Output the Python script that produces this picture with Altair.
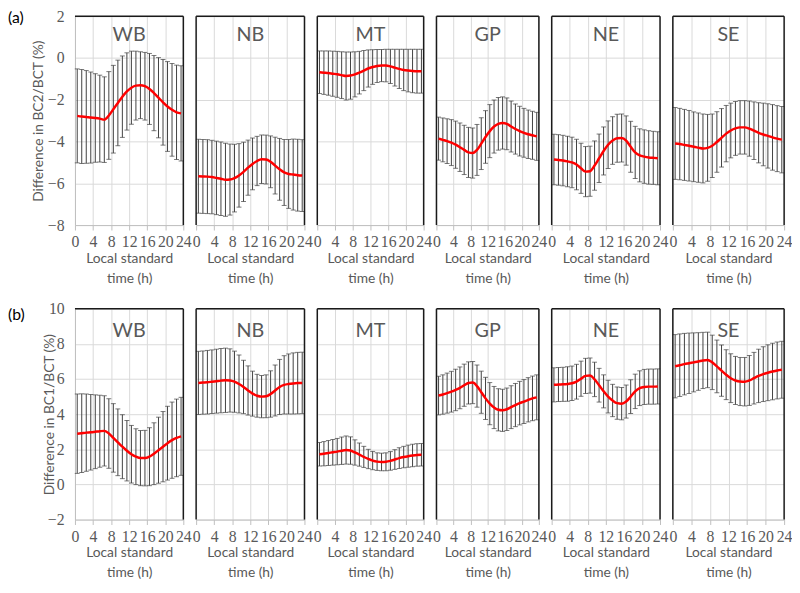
import altair as alt
import pandas as pd

HOURS = [0.5, 1.5, 2.5, 3.5, 4.5, 5.5, 6.5, 7.5, 8.5, 9.5, 10.5, 11.5,
         12.5, 13.5, 14.5, 15.5, 16.5, 17.5, 18.5, 19.5, 20.5, 21.5, 22.5, 23.5]
PANELS = ["WB", "NB", "MT", "GP", "NE", "SE"]
X_TICKS = [0, 4, 8, 12, 16, 20, 24]

# (a) Difference in BC2/BCT (%)
A_MEAN = {
    "WB": [-2.77, -2.80, -2.82, -2.85, -2.87, -2.90, -2.95, -2.75, -2.45, -2.15, -1.85, -1.60,
           -1.42, -1.32, -1.30, -1.35, -1.48, -1.68, -1.90, -2.12, -2.32, -2.48, -2.60, -2.65],
    "NB": [-5.66, -5.67, -5.68, -5.70, -5.74, -5.78, -5.83, -5.82, -5.75, -5.62, -5.45, -5.25,
           -5.07, -4.93, -4.85, -4.86, -4.97, -5.15, -5.33, -5.48, -5.55, -5.58, -5.61, -5.63],
    "MT": [-0.68, -0.70, -0.72, -0.75, -0.78, -0.82, -0.86, -0.84, -0.78, -0.70, -0.60, -0.50,
           -0.43, -0.38, -0.36, -0.36, -0.40, -0.46, -0.52, -0.57, -0.60, -0.62, -0.63, -0.63],
    "GP": [-3.86, -3.92, -3.98, -4.05, -4.15, -4.27, -4.40, -4.52, -4.55, -4.40, -4.10, -3.78,
           -3.50, -3.28, -3.15, -3.11, -3.15, -3.28, -3.40, -3.50, -3.58, -3.65, -3.70, -3.75],
    "NE": [-4.86, -4.88, -4.91, -4.95, -5.00, -5.10, -5.28, -5.44, -5.42, -5.15, -4.80, -4.45,
           -4.15, -3.95, -3.84, -3.83, -3.95, -4.25, -4.52, -4.66, -4.72, -4.76, -4.78, -4.80],
    "SE": [-4.09, -4.12, -4.16, -4.20, -4.25, -4.29, -4.33, -4.30, -4.20, -4.02, -3.82, -3.62,
           -3.47, -3.37, -3.32, -3.32, -3.38, -3.48, -3.58, -3.66, -3.73, -3.80, -3.86, -3.91],
}
A_SD = {
    "WB": [2.25, 2.25, 2.22, 2.18, 2.12, 2.08, 2.05, 2.10, 2.10, 2.05, 1.95, 1.85,
           1.75, 1.65, 1.60, 1.62, 1.70, 1.80, 1.92, 2.05, 2.15, 2.22, 2.26, 2.28],
    "NB": [1.77, 1.77, 1.77, 1.76, 1.76, 1.76, 1.75, 1.70, 1.62, 1.52, 1.42, 1.32,
           1.24, 1.18, 1.16, 1.17, 1.24, 1.36, 1.48, 1.58, 1.65, 1.70, 1.72, 1.72],
    "MT": [1.02, 1.04, 1.06, 1.08, 1.10, 1.12, 1.15, 1.13, 1.08, 1.02, 0.96, 0.89,
           0.83, 0.79, 0.77, 0.78, 0.82, 0.88, 0.94, 0.99, 1.02, 1.04, 1.05, 1.05],
    "GP": [1.03, 1.05, 1.07, 1.10, 1.13, 1.16, 1.18, 1.20, 1.20, 1.22, 1.24, 1.26,
           1.27, 1.27, 1.26, 1.25, 1.24, 1.22, 1.20, 1.19, 1.17, 1.16, 1.15, 1.15],
    "NE": [1.21, 1.21, 1.21, 1.21, 1.21, 1.21, 1.20, 1.20, 1.20, 1.18, 1.16, 1.15,
           1.14, 1.14, 1.15, 1.15, 1.18, 1.22, 1.25, 1.27, 1.28, 1.28, 1.27, 1.27],
    "SE": [1.72, 1.71, 1.70, 1.69, 1.67, 1.66, 1.65, 1.60, 1.52, 1.45, 1.40, 1.35,
           1.31, 1.29, 1.28, 1.28, 1.32, 1.38, 1.44, 1.50, 1.54, 1.57, 1.58, 1.59],
}

# (b) Difference in BC1/BCT (%)
B_MEAN = {
    "WB": [2.89, 2.92, 2.95, 2.97, 3.00, 3.03, 3.05, 2.90, 2.65, 2.40, 2.15, 1.92,
           1.72, 1.58, 1.50, 1.50, 1.58, 1.75, 1.95, 2.15, 2.35, 2.52, 2.65, 2.74],
    "NB": [5.78, 5.80, 5.82, 5.85, 5.88, 5.91, 5.93, 5.92, 5.85, 5.72, 5.55, 5.35,
           5.17, 5.05, 5.00, 5.02, 5.15, 5.35, 5.55, 5.67, 5.72, 5.75, 5.77, 5.78],
    "MT": [1.72, 1.75, 1.79, 1.83, 1.87, 1.92, 1.96, 1.93, 1.82, 1.70, 1.57, 1.45,
           1.36, 1.30, 1.28, 1.29, 1.34, 1.42, 1.50, 1.56, 1.61, 1.65, 1.68, 1.69],
    "GP": [5.06, 5.12, 5.20, 5.28, 5.38, 5.50, 5.65, 5.78, 5.80, 5.60, 5.25, 4.90,
           4.60, 4.38, 4.25, 4.22, 4.28, 4.40, 4.52, 4.63, 4.72, 4.82, 4.90, 4.96],
    "NE": [5.67, 5.69, 5.70, 5.72, 5.76, 5.85, 6.02, 6.18, 6.20, 5.98, 5.65, 5.30,
           5.00, 4.78, 4.63, 4.60, 4.72, 5.00, 5.30, 5.48, 5.55, 5.57, 5.57, 5.58],
    "SE": [6.73, 6.79, 6.85, 6.90, 6.95, 7.00, 7.06, 7.09, 6.95, 6.72, 6.48, 6.25,
           6.05, 5.92, 5.86, 5.85, 5.92, 6.05, 6.18, 6.28, 6.36, 6.43, 6.49, 6.53],
}
B_SD = {
    "WB": [2.26, 2.24, 2.20, 2.15, 2.10, 2.05, 2.00, 1.98, 1.95, 1.90, 1.82, 1.72,
           1.64, 1.59, 1.57, 1.58, 1.65, 1.76, 1.88, 2.00, 2.10, 2.17, 2.21, 2.22],
    "NB": [1.80, 1.80, 1.81, 1.81, 1.82, 1.83, 1.83, 1.80, 1.74, 1.65, 1.52, 1.40,
           1.28, 1.22, 1.20, 1.22, 1.32, 1.45, 1.57, 1.66, 1.71, 1.74, 1.75, 1.75],
    "MT": [0.67, 0.69, 0.71, 0.73, 0.75, 0.78, 0.80, 0.78, 0.72, 0.66, 0.60, 0.55,
           0.52, 0.50, 0.50, 0.51, 0.53, 0.56, 0.59, 0.61, 0.63, 0.64, 0.64, 0.64],
    "GP": [1.10, 1.12, 1.14, 1.16, 1.18, 1.19, 1.20, 1.20, 1.20, 1.20, 1.20, 1.20,
           1.20, 1.20, 1.20, 1.20, 1.21, 1.22, 1.23, 1.24, 1.25, 1.26, 1.27, 1.28],
    "NE": [0.97, 0.97, 0.97, 0.98, 0.98, 0.99, 1.00, 1.00, 1.00, 0.98, 0.96, 0.94,
           0.93, 0.92, 0.92, 0.92, 0.94, 0.96, 0.98, 0.99, 1.00, 1.00, 1.00, 1.00],
    "SE": [1.80, 1.78, 1.75, 1.72, 1.68, 1.64, 1.60, 1.58, 1.55, 1.50, 1.46, 1.42,
           1.39, 1.37, 1.37, 1.38, 1.42, 1.47, 1.52, 1.56, 1.59, 1.61, 1.62, 1.62],
}

ROWS = [
    {"tag": "(a)", "title": "Difference in BC2/BCT (%)", "domain": [-8, 2],
     "ticks": [-8, -6, -4, -2, 0, 2], "mean": A_MEAN, "sd": A_SD,
     "height": 212, "name_y": 19, "tag_y": 2, "title_pad": 2},
    {"tag": "(b)", "title": "Difference in BC1/BCT (%)", "domain": [-2, 10],
     "ticks": [-2, 0, 2, 4, 6, 8, 10], "mean": B_MEAN, "sd": B_SD,
     "height": 214, "name_y": 23, "tag_y": 6, "title_pad": -9},
]

WIDTHS = [110, 110, 108, 104, 110, 113]

FONT = "Lato"
NUM_FONT = "Liberation Sans Narrow"
TXT = "#595959"
GRID = "#d9d9d9"
AXIS = "#bfbfbf"
FRAME = "#1a1a1a"


def panel(row, idx, name):
    w = WIDTHS[idx]
    h = row["height"]
    df = pd.DataFrame({"hour": HOURS, "mean": row["mean"][name], "sd": row["sd"][name]})
    df["lo"] = df["mean"] - df["sd"]
    df["hi"] = df["mean"] + df["sd"]
    first = idx == 0
    yscale = alt.Scale(domain=row["domain"], nice=False, zero=False)
    xscale = alt.Scale(domain=[0, 24], nice=False, zero=False)
    xaxis = alt.Axis(values=X_TICKS, grid=True, gridColor=GRID, domainColor=AXIS,
                     tickColor=AXIS, tickSize=5, labelFont=NUM_FONT, labelFontSize=16,
                     labelColor=TXT, labelPadding=4, labelFlush=False, labelOverlap=False,
                     title=["Local standard", "time (h)"], titleFontSize=14,
                     titleColor=TXT, titleFontWeight="normal", titleLineHeight=20,
                     titlePadding=2)
    if first:
        yaxis = alt.Axis(values=row["ticks"], grid=True, gridColor=GRID, domain=True,
                         domainColor=AXIS, ticks=False, labelFont=NUM_FONT,
                         labelFontSize=16, labelColor=TXT, labelPadding=11,
                         title=row["title"], titleFontSize=14, titleColor=TXT,
                         titleFontWeight="normal", titlePadding=row["title_pad"])
    else:
        yaxis = alt.Axis(values=row["ticks"], grid=True, gridColor=GRID, domain=False,
                         ticks=False, labels=False, title=None)

    X = alt.X("hour:Q", scale=xscale, axis=xaxis)

    def Y(field):
        return alt.Y(field, type="quantitative", scale=yscale, axis=yaxis)

    base = alt.Chart(df)
    bars = base.mark_rule(color="#404040", strokeWidth=1).encode(x=X, y=Y("lo"), y2="hi:Q")
    cap_lo = base.mark_tick(color="#404040", orient="horizontal", size=5,
                            thickness=1).encode(x=X, y=Y("lo"))
    cap_hi = base.mark_tick(color="#404040", orient="horizontal", size=5,
                            thickness=1).encode(x=X, y=Y("hi"))
    line = base.mark_line(color="#ff0000", strokeWidth=2.5,
                          interpolate="monotone").encode(x=X, y=Y("mean"))
    label = alt.Chart(pd.DataFrame({"name": [name]})).mark_text(
        font=FONT, fontSize=20, color=TXT, baseline="middle", align="center"
    ).encode(text="name:N", x=alt.value(w / 2), y=alt.value(row["name_y"]))

    # panel frame (black on top, right and, except for the first panel, left)
    frame = [
        alt.Chart(pd.DataFrame({"k": [0]})).mark_rule(color=FRAME, strokeWidth=1.5).encode(
            x=alt.value(0), x2=alt.value(w), y=alt.value(0)),
        alt.Chart(pd.DataFrame({"k": [0]})).mark_rule(color=FRAME, strokeWidth=1.5).encode(
            x=alt.value(w), y=alt.value(0), y2=alt.value(h)),
    ]
    if not first:
        frame.append(
            alt.Chart(pd.DataFrame({"k": [0]})).mark_rule(color=FRAME, strokeWidth=1.5).encode(
                x=alt.value(0), y=alt.value(0), y2=alt.value(h)))

    layers = [bars, cap_lo, cap_hi, line, label] + frame
    if first:
        tag = alt.Chart(pd.DataFrame({"tag": [row["tag"]]})).mark_text(
            font=FONT, fontSize=16, color="#000000", baseline="middle", align="left"
        ).encode(text="tag:N", x=alt.value(-68), y=alt.value(row["tag_y"]))
        layers.append(tag)
    return alt.layer(*layers).properties(width=w, height=h)


rows = []
for row in ROWS:
    rows.append(alt.hconcat(*[panel(row, i, p) for i, p in enumerate(PANELS)],
                            spacing=13, bounds="flush"))

chart = alt.vconcat(*rows, spacing=16).properties(
    padding={"top": -4, "left": 0, "right": 0, "bottom": 0}
).configure_view(
    strokeWidth=0
).configure_axis(
    labelFont=FONT, titleFont=FONT
).configure_text(font=FONT)

chart.save("out.html", embed_options={"renderer": "svg", "actions": False})
